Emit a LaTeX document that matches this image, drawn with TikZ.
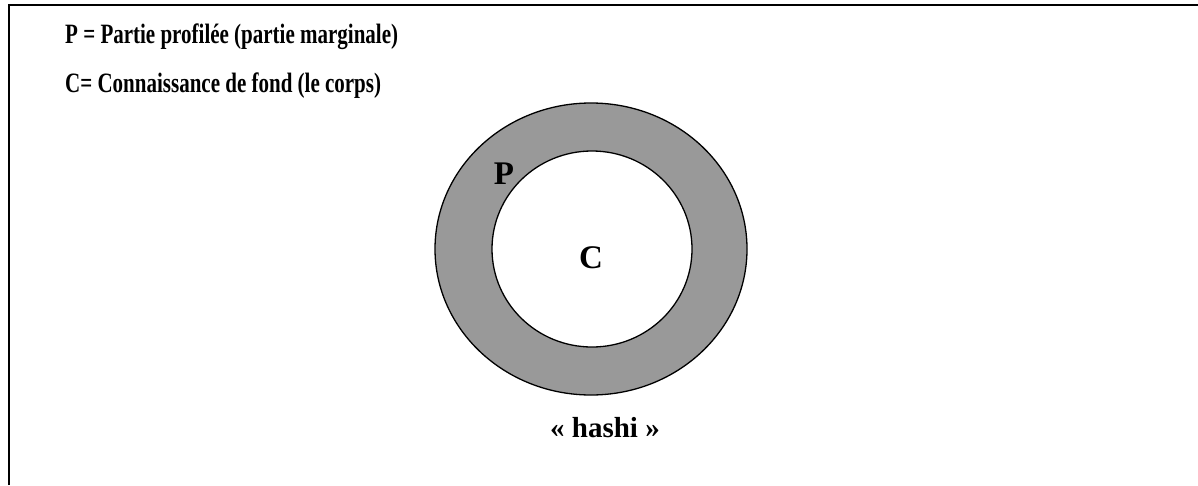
\documentclass[tikz,border=0pt]{standalone}
\usepackage{fontspec}
\setmainfont{Liberation Serif}
\usetikzlibrary{shapes.geometric}
\usetikzlibrary{positioning}
\newcommand{\narrowtext}[1]{\scalebox{0.75}[1]{#1}}
\tikzset{
  legend/.style={anchor=base west, inner sep=0pt, font=\bfseries\fontsize{28}{31}\selectfont},
  label/.style={inner sep=0pt, font=\bfseries\fontsize{33}{36}\selectfont},
  ring/.style={ellipse, draw, line width=1.3pt, inner sep=0pt}
}

\begin{document}
\begin{tikzpicture}[x=1pt, y=-1pt]
  \useasboundingbox (0,0) rectangle (1198,485);
  \draw [line width=2pt] (9,485) -- (9,5) -- (1198,5);

  \node [legend] (lp) at (65,43) {\narrowtext{P = Partie profilée (partie marginale)}};
  \node [legend] (lc) at (65,92) {\narrowtext{C= Connaissance de fond (le corps)}};

  \node [ring, fill=black!40, minimum width=312pt, minimum height=292pt] (outer) at (591,249) {};
  \node [ring, fill=white, minimum width=200pt, minimum height=196pt] (inner) at (592,249) {};

  \node [label] (p) at (504,174) {P};
  \node [label] (c) at (591,258) {C};
  \node [label, font=\bfseries\fontsize{29}{32}\selectfont, anchor=base] (hashi) at (605,437) {« hashi »};
\end{tikzpicture}
\end{document}
